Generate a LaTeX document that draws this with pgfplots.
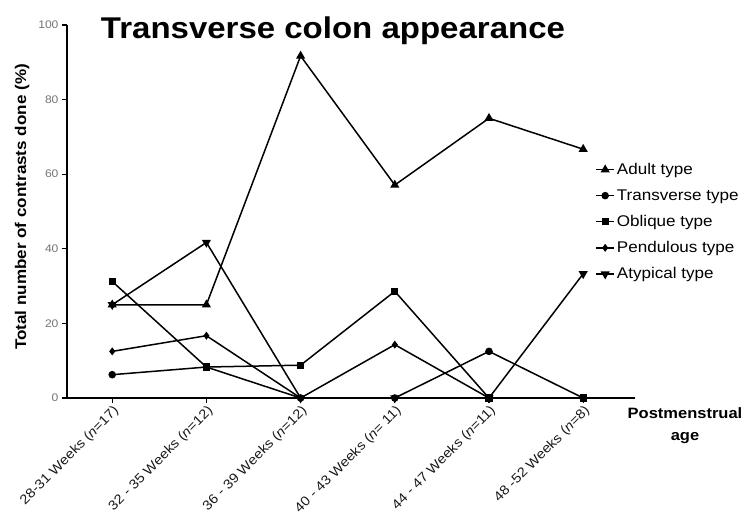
\documentclass[border=0pt]{standalone}
\usepackage{fontspec}
\setmainfont{Liberation Sans}[FakeStretch=1.1]
\usepackage{pgfplots}
\pgfplotsset{compat=1.18}
\begin{document}
\begin{tikzpicture}[x=1pt,y=1pt]
\useasboundingbox (-67,-119) rectangle (678,398);
\begin{axis}[
  at={(0,0)}, anchor=south west,
  scale only axis, width=568pt, height=373pt,
  xmin=-0.48, xmax=5.55, ymin=0, ymax=100,
  axis x line*=bottom, axis y line*=left,
  axis line style={-, line width=2pt},
  clip=false,
  ytick={0,20,40,60,80,100},
  xtick={0,1,2,3,4,5},
  xticklabels={28-31 Weeks (\textit{n}=17), 32 - 35 Weeks (\textit{n}=12), 36 - 39 Weeks (\textit{n}=12), 40 - 43 Weeks (\textit{n}= 11), 44 - 47 Weeks (\textit{n}=11), 48 -52 Weeks (\textit{n}=8)},
  tick align=outside, major tick length=5pt,
  tick style={line width=1.2pt, black},
  /pgf/number format/assume math mode=true,
  yticklabel style={font=\fontsize{11}{11}\selectfont, text=black!55},
  xticklabel style={rotate=45, anchor=north east, font=\fontsize{13.3}{13.3}\selectfont, text=black!90, inner sep=1pt},
  legend style={at={(axis description cs:0.93,0.635)}, anchor=north west, draw=none, fill=none,
    font=\fontsize{15.5}{15.5}\selectfont, row sep=9.5pt, inner sep=0pt},
  legend cell align=left,
  legend image code/.code={\draw[mark repeat=2, mark phase=2] plot coordinates {(0pt,0pt)(9pt,0pt)(18pt,0pt)};},
  every axis plot/.append style={black, line width=1.5pt},
]
\addplot[mark=triangle*, mark size=3.8pt] coordinates {(0,25)(1,25)(2,91.7)(3,57.1)(4,75)(5,66.7)};
\addlegendentry{Adult type}
\addplot[mark=*, mark size=3pt] coordinates {(0,6.25)(1,8.3)(2,0)(3,0)(4,12.5)(5,0)};
\addlegendentry{Transverse type}
\addplot[mark=square*, mark size=2.9pt] coordinates {(0,31.25)(1,8.3)(2,8.8)(3,28.6)(4,0)(5,0)};
\addlegendentry{Oblique type}
\addplot[mark=diamond*, mark size=2.8pt] coordinates {(0,12.5)(1,16.7)(2,0)(3,14.3)(4,0)(5,0)};
\addlegendentry{Pendulous type}
\addplot[mark=triangle*, mark size=3.8pt, mark options={rotate=180}] coordinates {(0,25)(1,41.7)(2,0)(3,0)(4,0)(5,33.3)};
\addlegendentry{Atypical type}
\end{axis}
\node[anchor=base, font=\bfseries\fontsize{30}{30}\selectfont] at (266,359) {Transverse colon appearance};
\node[rotate=90, font=\bfseries\fontsize{15.5}{15.5}\selectfont] at (-45,191) {Total number of contrasts done (\%)};
\node[align=center, font=\bfseries\fontsize{15}{22}\selectfont] at (618,-28) {Postmenstrual\\age};
\end{tikzpicture}
\end{document}
